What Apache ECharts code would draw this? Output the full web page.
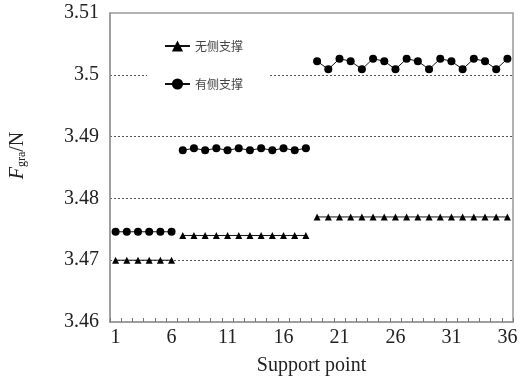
<!DOCTYPE html>
<html>
<head>
<meta charset="utf-8">
<script src="https://cdn.jsdelivr.net/npm/echarts@6/dist/echarts.min.js"></script>
<style>
  html, body { margin: 0; padding: 0; background: #fff; }
  #chart { width: 528px; height: 381px; }
</style>
</head>
<body>
<div id="chart"></div>
<script>
// Support point indices along the x axis
const supportPoints = ['1','2','3','4','5','6','7','8','9','10','11','12',
  '13','14','15','16','17','18','19','20','21','22','23','24',
  '25','26','27','28','29','30','31','32','33','34','35','36'];

// Gravity force F_gra (N) without lateral support
const noSupport = [
  3.4700, 3.4700, 3.4700, 3.4700, 3.4700, 3.4700,
  3.4740, 3.4740, 3.4740, 3.4740, 3.4740, 3.4740,
  3.4740, 3.4740, 3.4740, 3.4740, 3.4740, 3.4740,
  3.4770, 3.4770, 3.4770, 3.4770, 3.4770, 3.4770,
  3.4770, 3.4770, 3.4770, 3.4770, 3.4770, 3.4770,
  3.4770, 3.4770, 3.4770, 3.4770, 3.4770, 3.4770
];

// Gravity force F_gra (N) with lateral support
const withSupport = [
  3.4746, 3.4746, 3.4746, 3.4746, 3.4746, 3.4746,
  3.4878, 3.4881, 3.4878, 3.4881, 3.4878, 3.4881,
  3.4878, 3.4881, 3.4878, 3.4881, 3.4878, 3.4881,
  3.5022, 3.5009, 3.5026, 3.5022, 3.5009, 3.5026,
  3.5022, 3.5009, 3.5026, 3.5022, 3.5009, 3.5026,
  3.5022, 3.5009, 3.5026, 3.5022, 3.5009, 3.5026
];

// The support points fall into three separately connected groups
const groupBounds = [0, 6, 18, 36];

const yTicks = { min: 3.46, max: 3.51, step: 0.01 };

const serif = '"Liberation Serif", "Times New Roman", serif';
const cjk = '"Noto Sans CJK SC", sans-serif';

function segment(values, start, end) {
  return values.map((v, i) => (i >= start && i < end ? v : '-'));
}

const series = [];
for (let g = 0; g < groupBounds.length - 1; g++) {
  const s = groupBounds[g], e = groupBounds[g + 1];
  series.push({
    name: '无侧支撑',
    type: 'line',
    data: segment(noSupport, s, e),
    symbol: 'triangle',
    symbolSize: 7,
    showAllSymbol: true,
    lineStyle: { color: '#111', width: 1 },
    itemStyle: { color: '#000' },
    z: 3
  });
  series.push({
    name: '有侧支撑',
    type: 'line',
    data: segment(withSupport, s, e),
    symbol: 'circle',
    symbolSize: 8,
    showAllSymbol: true,
    lineStyle: { color: '#111', width: 1 },
    itemStyle: { color: '#000' },
    z: 3
  });
}

const chart = echarts.init(document.getElementById('chart'), null, { renderer: 'canvas' });
chart.setOption({
  animation: false,
  backgroundColor: '#fff',
  grid: {
    left: 105, right: 15, top: 13, bottom: 56,
    show: true,
    borderColor: '#999',
    borderWidth: 1.5,
    backgroundColor: 'transparent'
  },
  legend: {
    data: ['无侧支撑', '有侧支撑'],
    orient: 'vertical',
    left: 147,
    top: 30,
    padding: [10, 25, 10, 17],
    itemGap: 26,
    itemWidth: 25,
    itemHeight: 14,
    backgroundColor: '#fff',
    textStyle: { fontFamily: cjk, fontSize: 12, color: '#444' },
    z: 10
  },
  xAxis: {
    type: 'category',
    data: supportPoints,
    boundaryGap: true,
    name: 'Support point',
    nameLocation: 'middle',
    nameGap: 34,
    nameTextStyle: { fontFamily: serif, fontSize: 20, color: '#222' },
    axisLine: { lineStyle: { color: '#999', width: 1.5 } },
    axisTick: { show: true, inside: true, length: 4, interval: 0, alignWithLabel: false,
      lineStyle: { color: '#777' } },
    axisLabel: { interval: 4, fontFamily: serif, fontSize: 20, color: '#222', margin: 6 },
    splitLine: { show: false }
  },
  yAxis: {
    type: 'value',
    min: yTicks.min,
    max: yTicks.max,
    interval: yTicks.step,
    name: '{i|F}{sub|gra}{n|/N}',
    nameLocation: 'middle',
    nameRotate: 90,
    nameGap: 82,
    nameTextStyle: {
      padding: [0, 0, 0, 24],
      rich: {
        i: { fontFamily: serif, fontStyle: 'italic', fontSize: 20, color: '#222' },
        sub: { fontFamily: serif, fontSize: 12, color: '#222', verticalAlign: 'bottom', padding: [8, 0, 0, 0] },
        n: { fontFamily: serif, fontSize: 20, color: '#222' }
      }
    },
    axisLine: { show: true, lineStyle: { color: '#999', width: 1.5 } },
    axisTick: { show: false },
    axisLabel: { fontFamily: serif, fontSize: 20, color: '#222', margin: 11 },
    splitLine: {
      show: true,
      showMinLine: false,
      showMaxLine: false,
      lineStyle: { color: '#555', width: 1, type: [2, 2] }
    }
  },
  series: series
});
</script>
</body>
</html>
